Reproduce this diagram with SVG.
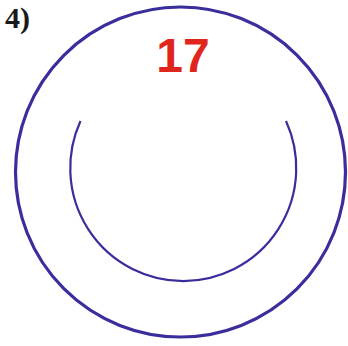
<svg xmlns="http://www.w3.org/2000/svg" width="348" height="346" viewBox="0 0 348 346">
<style>
.ring{fill:none;stroke:#3a2d9c}
.label{font-family:"Liberation Serif",serif;font-weight:bold;font-size:30px;fill:#1a1a1a}
.num{font-family:"Liberation Sans",Arial,sans-serif;font-weight:bold;font-size:48px;fill:#e0261c}
</style>
<rect width="348" height="346" fill="#ffffff"/>
<text class="label" x="5" y="28">4)</text>
<g id="outer">
<circle class="ring" cx="180.5" cy="172" r="165" stroke-width="3.2"/>
<line x1="65" y1="49" x2="69" y2="45" stroke="#ffffff" stroke-width="1"/>
<line x1="296" y1="45" x2="300" y2="49" stroke="#ffffff" stroke-width="1"/>
</g>
<g id="inner">
<path class="ring" d="M 80.5 121 A 113 113 0 1 0 286 121" stroke-width="2.2"/>
</g>
<text class="num" x="183" y="72" text-anchor="middle">17</text>
</svg>
